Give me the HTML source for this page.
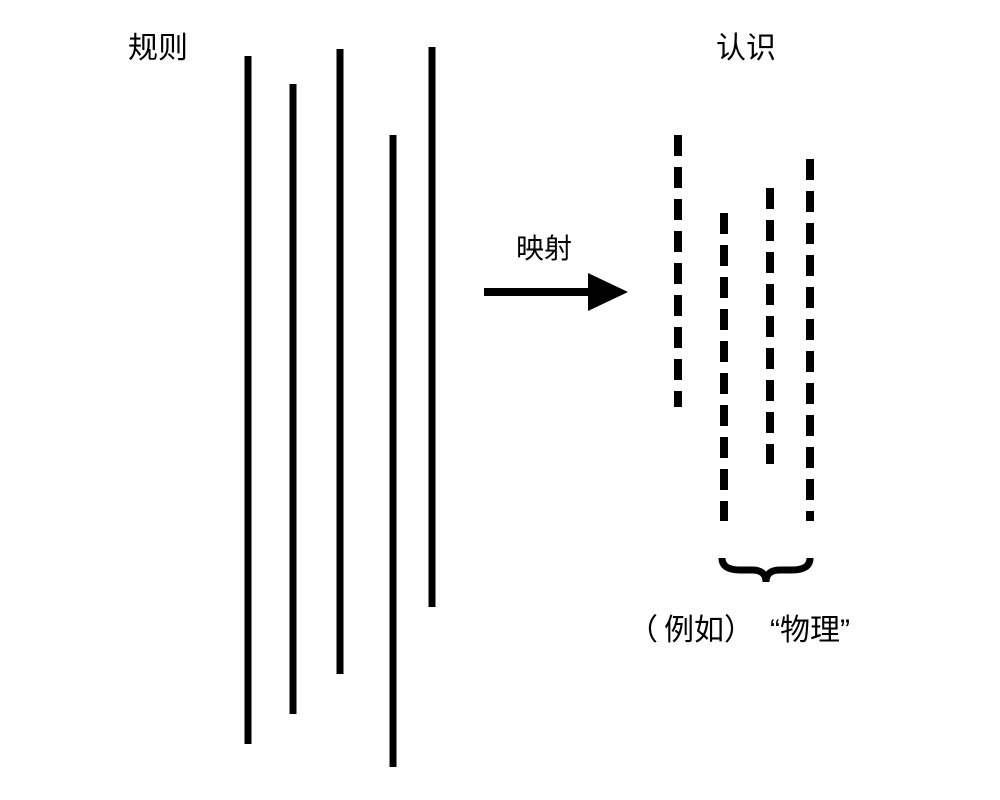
<!DOCTYPE html>
<html><head><meta charset="utf-8"><style>
body{margin:0;background:#fff;width:1000px;height:800px;overflow:hidden}
svg{display:block}
text{font-family:"Liberation Sans","Noto Sans CJK SC",sans-serif;fill:#000}
</style></head><body>
<svg width="1000" height="800">
<script>
const solidX=[248,293,340,393,432];
const solidTop=[56,84,49,135,47];
const solidBot=[744,714,674,767,607];
const dashX=[678,724,770,810];
const dashTop=[135,213,188,159];
const dashBot=[407,521,464,521];
</script>
<g id="solid"></g>
<g id="dash"></g>
<text x="128" y="58" font-size="30">规则</text>
<text x="716" y="58" font-size="30">认识</text>
<text x="516" y="258" font-size="28">映射</text>
<g>
<rect x="484" y="288" width="108" height="8" fill="#000"/>
<polygon points="588,273 628,292 588,311" fill="#000"/>
</g>
<path d="M722,558 Q722,570 740,570 L752,570 Q766,570 766,582 Q766,570 780,570 L792,570 Q810,570 810,558" fill="none" stroke="#000" stroke-width="7"/>
<g>
<text x="628" y="640" font-size="30">（</text>
<text x="664" y="640" font-size="30">例如</text>
<text x="724" y="640" font-size="30">）</text>
<text x="770" y="640" font-size="30">“物理”</text>
</g>
<script>
const ns='http://www.w3.org/2000/svg';
const gs=document.getElementById('solid');
solidX.forEach((x,i)=>{const l=document.createElementNS(ns,'line');
l.setAttribute('x1',x);l.setAttribute('x2',x);l.setAttribute('y1',solidTop[i]);l.setAttribute('y2',solidBot[i]);
l.setAttribute('stroke','#000');l.setAttribute('stroke-width','7');


gs.appendChild(l);});
const gd=document.getElementById('dash');
dashX.forEach((x,i)=>{const l=document.createElementNS(ns,'line');
l.setAttribute('x1',x);l.setAttribute('x2',x);l.setAttribute('y1',dashTop[i]);l.setAttribute('y2',dashBot[i]);
l.setAttribute('stroke','#000');l.setAttribute('stroke-width','8');l.setAttribute('stroke-dasharray','21 11');


gd.appendChild(l);});
</script>
</svg>
</body></html>
